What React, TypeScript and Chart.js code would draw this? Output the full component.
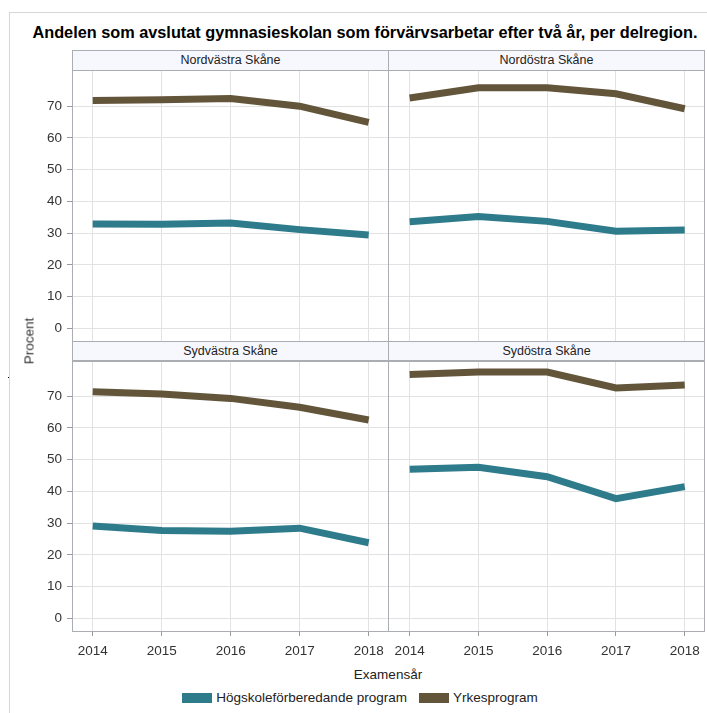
import React, { useEffect, useRef } from "react";
import { Chart, registerables } from "chart.js";
Chart.register(...registerables);

const years = [2014, 2015, 2016, 2017, 2018];
const regions = ["Nordvästra Skåne", "Nordöstra Skåne", "Sydvästra Skåne", "Sydöstra Skåne"];
const seriesNames = ["Högskoleförberedande program", "Yrkesprogram"];
const hogskoleNV = [32.9, 32.8, 33.2, 31.1, 29.4];
const yrkesNV = [71.8, 72.0, 72.4, 70.0, 64.9];
const hogskoleNO = [33.6, 35.2, 33.7, 30.6, 31.0];
const yrkesNO = [72.6, 75.8, 75.8, 73.9, 69.2];
const hogskoleSV = [29.1, 27.7, 27.4, 28.4, 23.8];
const yrkesSV = [71.4, 70.7, 69.3, 66.5, 62.5];
const hogskoleSO = [47.0, 47.6, 44.6, 37.7, 41.5];
const yrkesSO = [76.8, 77.6, 77.6, 72.6, 73.5];
const yTicks = [0, 10, 20, 30, 40, 50, 60, 70];

const TITLE = "Andelen som avslutat gymnasieskolan som förvärvsarbetar efter två år, per delregion.";
const X_TITLE = "Examensår";
const Y_TITLE = "Procent";

const TEAL = "#2e7b8c";
const BROWN = "#63553a";
const GRID = "#e2e2e2";
const FRAME = "#aaaeb2";
const HEADER_BG = "#f7f8fe";
const FONT = "'Liberation Sans', Arial, sans-serif";

type PanelProps = {
  hog: number[];
  yrk: number[];
  showY: boolean;
  showX: boolean;
  left: number;
  top: number;
  width: number;
  height: number;
  yW: number;
  xH: number;
};

const zeroPad = (s: any) => {
  s.paddingTop = 0;
  s.paddingBottom = 0;
  s.paddingLeft = 0;
  s.paddingRight = 0;
};

function Panel(p: PanelProps) {
  const ref = useRef<HTMLCanvasElement | null>(null);
  useEffect(() => {
    if (!ref.current) return;
    const tickFont = { family: FONT, size: 13.5 };
    const chart = new Chart(ref.current, {
      type: "line",
      data: {
        datasets: [
          {
            label: seriesNames[0],
            data: years.map((x, i) => ({ x, y: p.hog[i] })),
            borderColor: TEAL,
            backgroundColor: TEAL,
            borderWidth: 7,
            pointRadius: 0,
            tension: 0,
            borderCapStyle: "butt",
            borderJoinStyle: "miter",
            fill: false,
          },
          {
            label: seriesNames[1],
            data: years.map((x, i) => ({ x, y: p.yrk[i] })),
            borderColor: BROWN,
            backgroundColor: BROWN,
            borderWidth: 7,
            pointRadius: 0,
            tension: 0,
            borderCapStyle: "butt",
            borderJoinStyle: "miter",
            fill: false,
          },
        ],
      },
      options: {
        animation: false,
        responsive: false,
        maintainAspectRatio: false,
        devicePixelRatio: 1,
        events: [],
        layout: { padding: 0, autoPadding: false },
        plugins: { legend: { display: false }, tooltip: { enabled: false }, title: { display: false } },
        scales: {
          x: {
            type: "linear",
            min: 2013.7,
            max: 2018.28,
            afterBuildTicks: (s: any) => {
              s.ticks = years.map((v) => ({ value: v }));
            },
            afterFit: (s: any) => {
              s.height = p.xH;
              zeroPad(s);
            },
            grid: { color: GRID, tickColor: "#9a9a9a", tickLength: 5, drawTicks: p.showX },
            border: { display: false },
            ticks: {
              display: p.showX,
              font: tickFont,
              color: "#333",
              padding: 7,
              maxRotation: 0,
              autoSkip: false,
              callback: (v: any) => String(v),
            },
          },
          y: {
            type: "linear",
            min: -4,
            max: 81.4,
            afterBuildTicks: (s: any) => {
              s.ticks = yTicks.map((v) => ({ value: v }));
            },
            afterFit: (s: any) => {
              s.width = p.yW;
              zeroPad(s);
            },
            grid: { color: GRID, tickColor: "#9a9a9a", tickLength: 5, drawTicks: p.showY },
            border: { display: false },
            ticks: {
              display: p.showY,
              font: tickFont,
              color: "#333",
              padding: 5,
              autoSkip: false,
              callback: (v: any) => String(v),
            },
          },
        },
      },
    } as any);
    return () => chart.destroy();
  }, []);
  return (
    <canvas
      ref={ref}
      width={p.width}
      height={p.height}
      style={{ position: "absolute", left: p.left, top: p.top, width: p.width, height: p.height }}
    />
  );
}

const abs = (o: any) => ({ position: "absolute" as const, boxSizing: "border-box" as const, ...o });

function Header({ left, top, width, text }: { left: number; top: number; width: number; text: string }) {
  return (
    <div
      style={abs({
        left,
        top,
        width,
        height: 21,
        background: HEADER_BG,
        border: `1px solid ${FRAME}`,
        fontFamily: FONT,
        fontSize: 12.5,
        color: "#222",
        textAlign: "center",
        lineHeight: "19px",
      })}
    >
      {text}
    </div>
  );
}

function Frame({ left, top, width, height }: { left: number; top: number; width: number; height: number }) {
  return <div style={abs({ left, top, width, height, border: `1px solid ${FRAME}`, pointerEvents: "none" })} />;
}

export default function App() {
  return (
    <div style={{ position: "absolute", left: 0, top: 0, width: 707, height: 713, background: "#fff", overflow: "hidden" }}>
      <div style={abs({ left: 9, top: 12, width: 720, height: 720, borderLeft: "1px solid #d6d6d6", borderTop: "1px solid #d6d6d6" })} />
      <div style={abs({ left: 8, top: 377, width: 1, height: 1, background: "#000" })} />
      <div
        style={abs({
          left: 0,
          top: 23,
          width: 730,
          textAlign: "center",
          fontFamily: FONT,
          fontWeight: "bold",
          fontSize: 16.3,
          color: "#000",
          whiteSpace: "nowrap",
        })}
      >
        {TITLE}
      </div>

      <Panel hog={hogskoleNV} yrk={yrkesNV} showY={true} showX={false} left={20} top={70} width={368} height={271} yW={52} xH={0} />
      <Panel hog={hogskoleNO} yrk={yrkesNO} showY={false} showX={false} left={389} top={70} width={315} height={271} yW={0} xH={0} />
      <Panel hog={hogskoleSV} yrk={yrkesSV} showY={true} showX={true} left={20} top={360} width={368} height={301} yW={52} xH={30} />
      <Panel hog={hogskoleSO} yrk={yrkesSO} showY={false} showX={true} left={389} top={360} width={315} height={301} yW={0} xH={30} />

      <Header left={72} top={50} width={317} text={regions[0]} />
      <Header left={388} top={50} width={317} text={regions[1]} />
      <Header left={72} top={341} width={317} text={regions[2]} />
      <Header left={388} top={341} width={317} text={regions[3]} />
      <Frame left={72} top={70} width={317} height={272} />
      <Frame left={388} top={70} width={317} height={272} />
      <Frame left={72} top={360} width={317} height={272} />
      <Frame left={388} top={360} width={317} height={272} />

      <div
        style={abs({
          left: 29,
          top: 341,
          transform: "translate(-50%, -50%) rotate(-90deg)",
          fontFamily: FONT,
          fontSize: 13.5,
          fontWeight: "normal",
          color: "#333",
          whiteSpace: "nowrap",
        })}
      >
        {Y_TITLE}
      </div>
      <div style={abs({ left: 288, top: 667, width: 200, textAlign: "center", fontFamily: FONT, fontSize: 13.5, color: "#222" })}>
        {X_TITLE}
      </div>
      <div
        style={abs({
          left: 0,
          top: 690,
          width: 720,
          display: "flex",
          justifyContent: "center",
          alignItems: "center",
          fontFamily: FONT,
          fontSize: 13.5,
          color: "#222",
          whiteSpace: "nowrap",
        })}
      >
        <span style={{ display: "inline-block", width: 30, height: 10, background: TEAL, marginRight: 4 }} />
        <span style={{ marginRight: 12 }}>{seriesNames[0]}</span>
        <span style={{ display: "inline-block", width: 30, height: 10, background: BROWN, marginRight: 4 }} />
        <span>{seriesNames[1]}</span>
      </div>
    </div>
  );
}
